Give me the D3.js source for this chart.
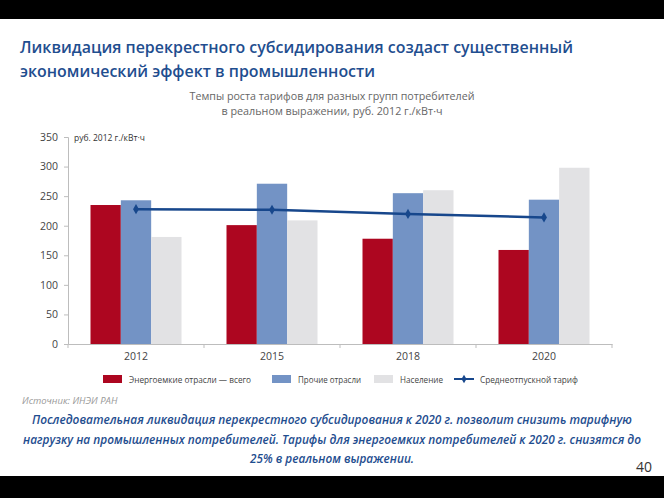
<!DOCTYPE html>
<html><head><meta charset="utf-8">
<script src="https://cdn.jsdelivr.net/npm/d3@7"></script>
<style>
html,body{margin:0;padding:0;background:#fff;}
svg{display:block;}
</style>
</head><body>
<svg id="c" width="664" height="498"></svg>
<script>
const categories = ["2012", "2015", "2018", "2020"];
const seriesNames = ["Энергоемкие отрасли — всего", "Прочие отрасли", "Население"];
const energyIntensive = [235, 201, 178, 159];
const otherIndustries = [243, 271, 255, 244];
const population = [181, 209, 260, 298];
const averageTariff = [228, 227, 220, 214];
const lineName = "Среднеотпускной тариф";
const yTicks = [0, 50, 100, 150, 200, 250, 300, 350];

const colors = ["#ad0620", "#7393c5", "#e2e2e4"];
const lineColor = "#17478c";
const titleColor = "#1f4e8f";

const svg = d3.select("#c");
svg.append("rect").attr("x",0).attr("y",0).attr("width",664).attr("height",498).attr("fill","#fff");
svg.append("rect").attr("x",0).attr("y",0).attr("width",664).attr("height",19).attr("fill","#000");
svg.append("rect").attr("x",0).attr("y",476).attr("width",664).attr("height",22).attr("fill","#000");

const font = "'Open Sans', 'Noto Sans', sans-serif";

// Title
const title = ["Ликвидация перекрестного субсидирования создаст существенный", "экономический эффект в промышленности"];
const titleW = [553, 355];
title.forEach((t,i)=>{
  svg.append("text").attr("x",20).attr("y",53+i*24).text(t)
    .attr("font-family",font).attr("font-size",17).attr("font-weight",600)
    .attr("fill",titleColor).attr("textLength",titleW[i]).attr("lengthAdjust","spacingAndGlyphs");
});
// Subtitle
const sub = ["Темпы роста тарифов для разных групп потребителей", "в реальном выражении, руб. 2012 г./кВт·ч"];
const subW = [285, 221];
sub.forEach((t,i)=>{
  svg.append("text").attr("x",332).attr("y",100+i*14.5).text(t).attr("text-anchor","middle")
    .attr("font-family",font).attr("font-size",11).attr("fill","#666")
    .attr("textLength",subW[i]).attr("lengthAdjust","spacingAndGlyphs");
});

// Chart
const x0 = d3.scaleBand().domain(categories).range([68, 612]);
const series = [energyIntensive, otherIndustries, population];
const x1 = d3.scaleBand().domain(d3.range(3)).range([0, 91]);
const y = d3.scaleLinear().domain([0, 350]).range([344, 137]);

// y axis
const yAxis = svg.append("g").attr("transform","translate(68,0)")
  .call(d3.axisLeft(y).tickValues(yTicks).tickSize(4).tickPadding(6));
yAxis.select(".domain").attr("stroke","#bdbdbd");
yAxis.selectAll(".tick line").attr("stroke","#bdbdbd");
yAxis.selectAll(".tick text").attr("font-family",font).attr("font-size",10.5).attr("fill","#444");

svg.append("text").attr("x",74).attr("y",141).text("руб. 2012 г./кВт·ч")
  .attr("font-family",font).attr("font-size",8.5).attr("fill","#333");

// bars
categories.forEach((c,ci)=>{
  const gx = x0(c) + (x0.bandwidth()-91)/2;
  series.forEach((s,si)=>{
    svg.append("rect").attr("x",gx + x1(si)).attr("y",y(s[ci]))
      .attr("width",x1.bandwidth()).attr("height",y(0)-y(s[ci])).attr("fill",colors[si]);
  });
});

// x axis
const xAxis = svg.append("g").attr("transform","translate(0,344)")
  .call(d3.axisBottom(x0).tickSize(0).tickPadding(9));
xAxis.select(".domain").attr("stroke","#bdbdbd");
xAxis.selectAll(".tick text").attr("font-family",font).attr("font-size",10.5).attr("fill","#444");
const bounds = categories.map(c=>x0(c)).concat([612]);
svg.append("g").selectAll("line").data(bounds).join("line")
  .attr("x1",d=>d).attr("x2",d=>d).attr("y1",344).attr("y2",348).attr("stroke","#bdbdbd");

// line
const cx = c => x0(c) + x0.bandwidth()/2;
svg.append("path").datum(averageTariff)
  .attr("d", d3.line().x((d,i)=>cx(categories[i])).y(d=>y(d)))
  .attr("fill","none").attr("stroke",lineColor).attr("stroke-width",2.5);
svg.append("g").selectAll("path").data(averageTariff).join("path")
  .attr("d", d3.symbol(d3.symbolDiamond, 30))
  .attr("transform",(d,i)=>`translate(${cx(categories[i])},${y(d)})`)
  .attr("fill",lineColor);

// legend
const lg = svg.append("g");
const legItems = [
  {name: seriesNames[0], x:103, tw:122, type:"rect", color:colors[0]},
  {name: seriesNames[1], x:272, tw:63, type:"rect", color:colors[1]},
  {name: seriesNames[2], x:374, tw:43, type:"rect", color:colors[2]},
  {name: lineName, x:454, tw:98, type:"line", color:lineColor}
];
const ly = 379;
legItems.forEach(it=>{
  if(it.type==="rect"){
    lg.append("rect").attr("x",it.x).attr("y",ly-4).attr("width",19).attr("height",8).attr("fill",it.color);
  } else {
    lg.append("line").attr("x1",it.x).attr("x2",it.x+20).attr("y1",ly).attr("y2",ly).attr("stroke",it.color).attr("stroke-width",2);
    lg.append("path").attr("d",d3.symbol(d3.symbolDiamond,22)).attr("transform",`translate(${it.x+10},${ly})`).attr("fill",it.color);
  }
  lg.append("text").attr("x",it.x+26).attr("y",ly+3.5).text(it.name)
    .attr("font-family",font).attr("font-size",9.5).attr("fill","#444")
    .attr("textLength",it.tw).attr("lengthAdjust","spacingAndGlyphs");
});

// source
svg.append("text").attr("x",22).attr("y",404).text("Источник: ИНЭИ РАН")
  .attr("font-family",font).attr("font-size",9.5).attr("font-style","italic").attr("fill","#999");

// bottom text
const foot = ["Последовательная ликвидация перекрестного субсидирования к 2020 г. позволит снизить тарифную",
  "нагрузку на промышленных потребителей. Тарифы для энергоемких потребителей к 2020 г. снизятся до",
  "25% в реальном выражении."];
const footW = [600, 618, 164];
foot.forEach((t,i)=>{
  svg.append("text").attr("x",332).attr("y",424+i*19.5).text(t).attr("text-anchor","middle")
    .attr("font-family",font).attr("font-size",12).attr("font-style","italic").attr("font-weight",600)
    .attr("fill",titleColor).attr("textLength",footW[i]).attr("lengthAdjust","spacingAndGlyphs");
});

svg.append("text").attr("x",652).attr("y",472).text("40").attr("text-anchor","end")
  .attr("font-family",font).attr("font-size",14).attr("fill","#333");
</script>
</body></html>
